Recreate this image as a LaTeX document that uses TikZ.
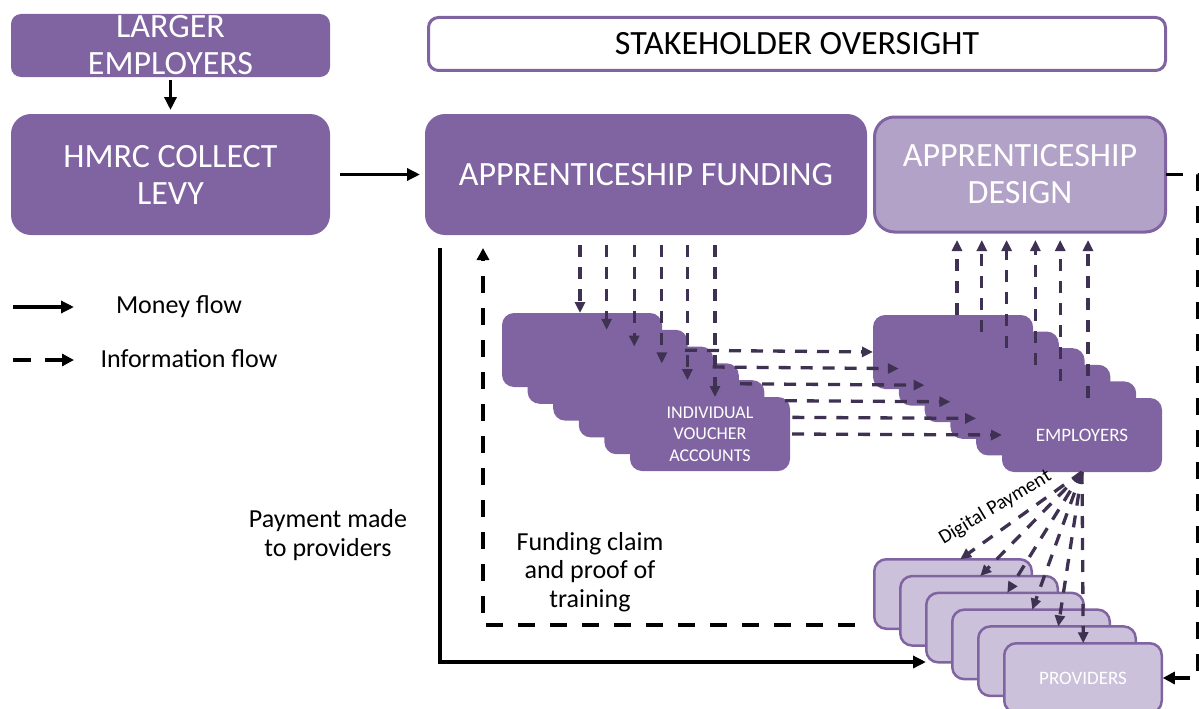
\documentclass[tikz,border=0pt]{standalone}
\usepackage{fontspec}
\setmainfont{Carlito}
\usetikzlibrary{arrows.meta,calc}
\definecolor{pmain}{HTML}{8064A2}
\definecolor{plight}{HTML}{B2A2C7}
\definecolor{ppale}{HTML}{CCC1DA}
\definecolor{pdark}{HTML}{3F3151}
\begin{document}
\begin{tikzpicture}[x=1pt,y=-1pt,
  bigbox/.style={fill=pmain, draw=none, rounded corners=20pt, text=white, align=center,
    inner sep=0pt, outer sep=0pt, font=\fontsize{34}{37}\selectfont},
  stackbox/.style={fill=pmain, draw=none, rounded corners=12pt, minimum width=160pt,
    minimum height=74pt, inner sep=0pt, outer sep=0pt, text=white, align=center},
  provbox/.style={fill=ppale, draw=pmain, line width=2.5pt, rounded corners=12pt,
    minimum width=157.5pt, minimum height=69.5pt, inner sep=0pt, outer sep=0pt,
    text=white, align=center},
  money/.style={line width=3.5pt, -{Triangle[length=13pt,width=12pt]}},
  infoblack/.style={line width=3.5pt, dash pattern=on 17pt off 15pt, -{Triangle[length=12pt,width=12pt]}},
  infop/.style={pdark, line width=3.3pt, dash pattern=on 12pt off 10pt, -{Triangle[length=11pt,width=10pt]}},
  label/.style={align=center, inner sep=0pt, font=\fontsize{26}{28.5}\selectfont}
]
\useasboundingbox (0,0) rectangle (1199,709);

% top-left boxes
\node[bigbox, rounded corners=10pt, minimum width=319pt, minimum height=63pt] (larger) at (170.5,45.5) {LARGER\\EMPLOYERS};
\node[bigbox, minimum width=319pt, minimum height=121pt] (hmrc) at (170.5,174.5) {HMRC COLLECT\\LEVY};

% top row
\node[draw=pmain, line width=3pt, fill=white, rounded corners=10pt, minimum width=737pt,
  minimum height=53pt, inner sep=0pt, outer sep=0pt, font=\fontsize{34}{37}\selectfont] (stake) at (797,44) {STAKEHOLDER OVERSIGHT};
\node[bigbox, minimum width=442pt, minimum height=121pt] (fund) at (646,174.5) {APPRENTICESHIP FUNDING};
\node[bigbox, fill=plight, draw=pmain, line width=3pt, minimum width=291pt, minimum height=115pt] (design) at (1020,174.5) {APPRENTICESHIP\\DESIGN};

% money arrows top-left
\draw[money, shorten <=3pt, shorten >=4pt] (larger.south) -- (hmrc.north);
\draw[money, shorten <=10pt, shorten >=5pt] (hmrc.east) -- (fund.west);

% legend
\coordinate (lm1) at (13,307); \coordinate (lm2) at (74,307);
\coordinate (li1) at (13,360); \coordinate (li2) at (74,360);
\draw[money] (lm1) -- (lm2);
\draw[infoblack, dash pattern=on 18pt off 14pt] (li1) -- (li2);
\node[label] (lmt) at (179,307) {Money flow};
\node[label] (lit) at (189,359) {Information flow};

% side labels
\node[label] (paylbl) at (328,535) {Payment made\\to providers};
\node[label] (claimlbl) at (590,572) {Funding claim\\and proof of\\training};

% voucher stack
\foreach \i in {0,...,4} {
  \node[stackbox] (v\i) at ({582+25.6*\i},{350+16.8*\i}) {};
}
\node[stackbox, font=\fontsize{18}{21.5}\selectfont] (v5) at (710,434) {INDIVIDUAL\\VOUCHER\\ACCOUNTS};

% employer stack
\foreach \i in {0,...,4} {
  \node[stackbox] (e\i) at ({953+25.8*\i},{352+16.6*\i}) {};
}
\node[stackbox, font=\fontsize{19}{22}\selectfont] (e5) at (1082,435) {EMPLOYERS};

% provider stack
\foreach \i in {0,...,4} {
  \node[provbox] (p\i) at ({953+26*\i},{594+16.8*\i}) {};
}
\node[provbox, font=\fontsize{19}{22}\selectfont] (p5) at (1083,678) {PROVIDERS};

% funding -> vouchers
\foreach \i/\dx in {0/78,1/79,2/81,3/83,4/83,5/85} {
  \coordinate (dt\i) at ($(v\i.north west)+(\dx,0)$);
  \draw[infop, shorten <=10pt] (fund.south -| dt\i) -- (dt\i);
}
% vouchers -> employers
\foreach \i/\s in {0/23,1/25,2/27,3/46,4/28,5/2} {
  \draw[infop, shorten <=\s pt] (v\i.east) -- (e\i.west);
}
% employers -> design
\foreach \i/\dx in {0/84,1/83,2/82,3/85,4/84,5/86} {
  \coordinate (ut\i) at ($(e\i.north west)+(\dx,0)$);
  \draw[infop, shorten >=8pt] (ut\i) -- (design.south -| ut\i);
}
% employers -> providers (digital payment fan)
\foreach \i/\dx in {0/86,1/80,2/81,3/80,4/80,5/79} {
  \coordinate (ft\i) at ($(p\i.north west)+(\dx,0)$);
  \draw[infop] (e5.south) -- (ft\i);
}
\node[rotate=31, anchor=base, inner sep=0pt, font=\fontsize{20}{22}\selectfont] (dp) at (998,512) {Digital Payment};

% payment to providers (money)
\coordinate (paytip) at (926,662);
\draw[money] ($(fund.south west)+(15,13)$) |- (paytip);

% funding claim (info)
\coordinate (claimstart) at (855,625);
\draw[infoblack] (claimstart) -| ($(fund.south west)+(58,13)$);

% design -> providers (right side)
\draw[infoblack, shorten >=1pt] (design.east) -- ++(32.5,0) |- (p5.east);
\end{tikzpicture}
\end{document}
